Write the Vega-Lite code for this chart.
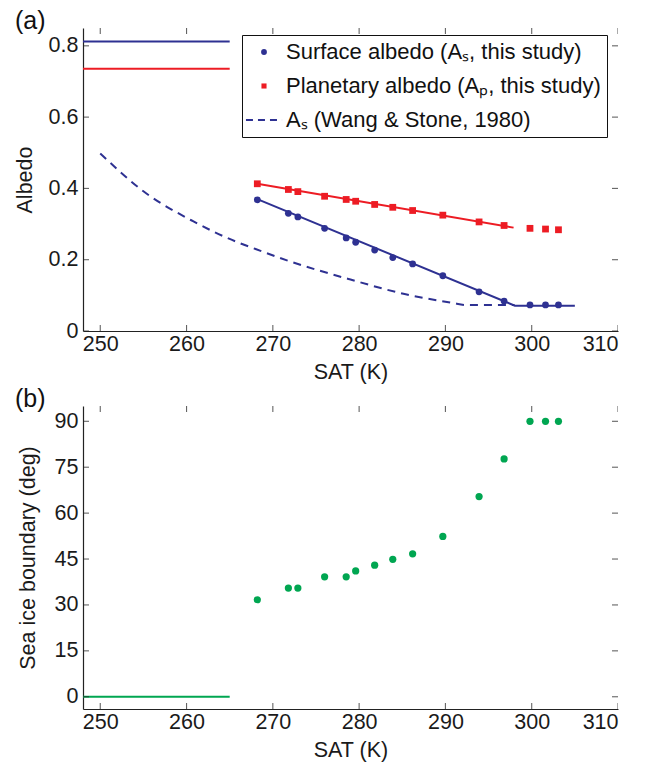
{
  "$schema": "https://vega.github.io/schema/vega-lite/v6.json",
  "padding": {"left": 14, "top": 9, "right": 5, "bottom": 5},
  "background": "white",
  "config": {
    "font": "Liberation Sans",
    "view": {"stroke": null},
    "axis": {
      "grid": false,
      "ticks": false,
      "domainColor": "#222222",
      "labelColor": "#1a1a1a",
      "titleColor": "#1a1a1a",
      "labelFont": "Liberation Sans",
      "titleFont": "Liberation Sans",
      "labelFontSize": 21.5,
      "titleFontSize": 21.5,
      "titleFontWeight": "normal",
      "domainWidth": 1.2
    },
    "axisX": {"labelPadding": 2, "titlePadding": 7},
    "axisY": {"labelPadding": 5},
    "title": {"font": "Liberation Sans", "fontSize": 25, "fontWeight": "normal", "color": "#111111"}
  },
  "datasets": {
    "hlS": [{"x": 248, "x2": 265, "y": 0.812}],
    "hlP": [{"x": 248, "x2": 265, "y": 0.736}],
    "xticks": [{"v": 250}, {"v": 260}, {"v": 270}, {"v": 280}, {"v": 290}, {"v": 300}, {"v": 310}],
    "yticksA": [{"v": 0}, {"v": 0.2}, {"v": 0.4}, {"v": 0.6}, {"v": 0.8}],
    "yticksB": [{"v": 0}, {"v": 15}, {"v": 30}, {"v": 45}, {"v": 60}, {"v": 75}, {"v": 90}],
    "wang": [
      {"T": 250, "A": 0.498},
      {"T": 255, "A": 0.392},
      {"T": 260.75, "A": 0.308},
      {"T": 266, "A": 0.248},
      {"T": 268, "A": 0.230},
      {"T": 271.9, "A": 0.196},
      {"T": 278.9, "A": 0.145},
      {"T": 285.4, "A": 0.103},
      {"T": 290.8, "A": 0.079},
      {"T": 292.4, "A": 0.073},
      {"T": 298, "A": 0.073}
    ],
    "fitS": [{"T": 268.2, "A": 0.370}, {"T": 298.05, "A": 0.071}, {"T": 305, "A": 0.071}],
    "fitP": [{"T": 268.2, "A": 0.413}, {"T": 297.9, "A": 0.290}],
    "pts": [
      {"T": 268.2, "A": 0.368, "s": "S"},
      {"T": 271.8, "A": 0.330, "s": "S"},
      {"T": 272.9, "A": 0.320, "s": "S"},
      {"T": 276.0, "A": 0.288, "s": "S"},
      {"T": 278.5, "A": 0.261, "s": "S"},
      {"T": 279.6, "A": 0.249, "s": "S"},
      {"T": 281.8, "A": 0.227, "s": "S"},
      {"T": 283.9, "A": 0.206, "s": "S"},
      {"T": 286.2, "A": 0.188, "s": "S"},
      {"T": 289.7, "A": 0.155, "s": "S"},
      {"T": 293.9, "A": 0.110, "s": "S"},
      {"T": 296.8, "A": 0.084, "s": "S"},
      {"T": 299.8, "A": 0.073, "s": "S"},
      {"T": 301.6, "A": 0.073, "s": "S"},
      {"T": 303.1, "A": 0.073, "s": "S"},
      {"T": 268.2, "A": 0.413, "s": "P"},
      {"T": 271.8, "A": 0.397, "s": "P"},
      {"T": 272.9, "A": 0.391, "s": "P"},
      {"T": 276.0, "A": 0.378, "s": "P"},
      {"T": 278.5, "A": 0.369, "s": "P"},
      {"T": 279.6, "A": 0.364, "s": "P"},
      {"T": 281.8, "A": 0.355, "s": "P"},
      {"T": 283.9, "A": 0.347, "s": "P"},
      {"T": 286.2, "A": 0.338, "s": "P"},
      {"T": 289.7, "A": 0.325, "s": "P"},
      {"T": 293.9, "A": 0.306, "s": "P"},
      {"T": 296.8, "A": 0.296, "s": "P"},
      {"T": 299.8, "A": 0.288, "s": "P"},
      {"T": 301.6, "A": 0.286, "s": "P"},
      {"T": 303.1, "A": 0.284, "s": "P"}
    ],
    "ice": [
      {"T": 268.2, "B": 31.7},
      {"T": 271.8, "B": 35.5},
      {"T": 272.9, "B": 35.5},
      {"T": 276.0, "B": 39.2},
      {"T": 278.5, "B": 39.2},
      {"T": 279.6, "B": 41.1},
      {"T": 281.8, "B": 43.0},
      {"T": 283.9, "B": 44.9},
      {"T": 286.2, "B": 46.7},
      {"T": 289.7, "B": 52.4},
      {"T": 293.9, "B": 65.4},
      {"T": 296.8, "B": 77.7},
      {"T": 299.8, "B": 90},
      {"T": 301.6, "B": 90},
      {"T": 303.1, "B": 90}
    ],
    "iceLine": [{"x": 248, "x2": 265, "y": 0}]
  },
  "vconcat": [
    {
      "width": 535,
      "height": 303,
      "title": {"text": "(a)", "anchor": "start", "frame": "group", "dx": -68, "offset": -6},
      "resolve": {"axis": {"x": "independent", "y": "independent"}},
      "layer": [
        {
          "data": {"name": "hlS"},
          "mark": {"type": "rule", "color": "#2e3192", "strokeWidth": 2},
          "encoding": {
            "x": {"field": "x", "type": "quantitative", "scale": {"domain": [248, 310], "nice": false, "zero": false}, "axis": null},
            "x2": {"field": "x2"},
            "y": {"field": "y", "type": "quantitative", "scale": {"domain": [0, 0.85], "nice": false, "zero": false}, "axis": null}
          }
        },
        {
          "data": {"name": "hlP"},
          "mark": {"type": "rule", "color": "#ed1c24", "strokeWidth": 2},
          "encoding": {
            "x": {"field": "x", "type": "quantitative", "axis": null},
            "x2": {"field": "x2"},
            "y": {"field": "y", "type": "quantitative", "axis": null}
          }
        },
        {
          "data": {"name": "xticks"},
          "mark": {"type": "tick", "orient": "vertical", "color": "#222222", "size": 12, "thickness": 1.1, "clip": true},
          "encoding": {
            "x": {"field": "v", "type": "quantitative", "axis": null},
            "y": {"datum": 0, "type": "quantitative", "axis": null}
          }
        },
        {
          "data": {"name": "xticks"},
          "mark": {"type": "tick", "orient": "vertical", "color": "#222222", "size": 12, "thickness": 1.1, "clip": true},
          "encoding": {
            "x": {"field": "v", "type": "quantitative", "axis": null},
            "y": {"datum": 0.85, "type": "quantitative", "axis": null}
          }
        },
        {
          "data": {"name": "yticksA"},
          "mark": {"type": "tick", "orient": "horizontal", "color": "#222222", "size": 12, "thickness": 1.1, "clip": true},
          "encoding": {
            "y": {"field": "v", "type": "quantitative", "axis": null},
            "x": {"datum": 248, "type": "quantitative", "axis": null}
          }
        },
        {
          "data": {"name": "yticksA"},
          "mark": {"type": "tick", "orient": "horizontal", "color": "#222222", "size": 12, "thickness": 1.1, "clip": true},
          "encoding": {
            "y": {"field": "v", "type": "quantitative", "axis": null},
            "x": {"datum": 310, "type": "quantitative", "axis": null}
          }
        },
        {
          "mark": {"type": "rule", "color": "#222222", "strokeWidth": 1.2},
          "encoding": {"x": {"datum": 310, "type": "quantitative", "axis": null}}
        },
        {
          "mark": {"type": "rule", "color": "#222222", "strokeWidth": 1.2},
          "encoding": {"y": {"datum": 0.85, "type": "quantitative", "axis": null}}
        },
        {
          "data": {"name": "wang"},
          "mark": {"type": "line", "color": "#2e3192", "strokeWidth": 2, "strokeDash": [8, 6], "interpolate": "monotone"},
          "encoding": {
            "x": {"field": "T", "type": "quantitative", "axis": null},
            "y": {"field": "A", "type": "quantitative", "axis": null}
          }
        },
        {
          "data": {"name": "fitP"},
          "mark": {"type": "line", "color": "#ed1c24", "strokeWidth": 2},
          "encoding": {
            "x": {"field": "T", "type": "quantitative", "axis": null},
            "y": {"field": "A", "type": "quantitative", "axis": null}
          }
        },
        {
          "data": {"name": "fitS"},
          "mark": {"type": "line", "color": "#2e3192", "strokeWidth": 2},
          "encoding": {
            "x": {"field": "T", "type": "quantitative", "axis": null},
            "y": {"field": "A", "type": "quantitative", "axis": null}
          }
        },
        {
          "data": {"name": "pts"},
          "mark": {"type": "point", "filled": true, "opacity": 1, "size": 46},
          "encoding": {
            "x": {"field": "T", "type": "quantitative",
                  "axis": {"orient": "bottom", "title": "SAT (K)", "values": [250, 260, 270, 280, 290, 300, 310]}},
            "y": {"field": "A", "type": "quantitative",
                  "axis": {"orient": "left", "title": "Albedo", "values": [0, 0.2, 0.4, 0.6, 0.8], "format": ".1~f", "titlePadding": 12}},
            "shape": {"field": "s", "type": "nominal", "scale": {"domain": ["S", "P", "W"], "range": ["circle", "square", "stroke"]}, "legend": null},
            "color": {
              "field": "s", "type": "nominal",
              "scale": {"domain": ["S", "P", "W"], "range": ["#2e3192", "#ed1c24", "#2e3192"]},
              "legend": {
                "orient": "none", "legendX": 159, "legendY": 7,
                "title": null,
                "labelExpr": "datum.value === 'S' ? 'Surface albedo (Aₛ, this study)' : datum.value === 'P' ? 'Planetary albedo (Aₚ, this study)' : 'Aₛ (Wang & Stone, 1980)'",
                "labelFont": "Liberation Sans", "labelFontSize": 22, "labelColor": "#111111", "labelLimit": 500,
                "strokeColor": "#111111", "fillColor": "white", "padding": 6,
                "symbolSize": 100, "symbolOffset": 5, "labelOffset": 11, "rowPadding": 12,
                "symbolStrokeWidth": 2,
                "encoding": {
                  "symbols": {
                    "shape": {"value": {"expr": "datum.value === 'W' ? 'stroke' : datum.value === 'P' ? 'square' : 'circle'"}},
                    "size": {"value": {"expr": "datum.value === 'W' ? 1300 : datum.value === 'P' ? 26 : 34"}},
                    "strokeDash": {"value": {"expr": "datum.value === 'W' ? [7, 5] : [1, 0]"}},
                    "stroke": {"value": {"expr": "datum.value === 'W' ? '#2e3192' : 'transparent'"}},
                    "fill": {"value": {"expr": "datum.value === 'W' ? 'transparent' : datum.value === 'P' ? '#ed1c24' : '#2e3192'"}},
                    "strokeWidth": {"value": 2},
                    "opacity": {"value": 1}
                  }
                }
              }
            }
          }
        }
      ]
    },
    {
      "width": 535,
      "height": 303,
      "title": {"text": "(b)", "anchor": "start", "frame": "group", "dx": -68, "offset": -6},
      "resolve": {"axis": {"x": "independent", "y": "independent"}},
      "layer": [
        {
          "data": {"name": "iceLine"},
          "mark": {"type": "rule", "color": "#00a651", "strokeWidth": 2},
          "encoding": {
            "x": {"field": "x", "type": "quantitative", "scale": {"domain": [248, 310], "nice": false, "zero": false}, "axis": null},
            "x2": {"field": "x2"},
            "y": {"field": "y", "type": "quantitative", "scale": {"domain": [-4, 95], "nice": false, "zero": false}, "axis": null}
          }
        },
        {
          "data": {"name": "xticks"},
          "mark": {"type": "tick", "orient": "vertical", "color": "#222222", "size": 12, "thickness": 1.1, "clip": true},
          "encoding": {
            "x": {"field": "v", "type": "quantitative", "axis": null},
            "y": {"datum": -4, "type": "quantitative", "axis": null}
          }
        },
        {
          "data": {"name": "xticks"},
          "mark": {"type": "tick", "orient": "vertical", "color": "#222222", "size": 12, "thickness": 1.1, "clip": true},
          "encoding": {
            "x": {"field": "v", "type": "quantitative", "axis": null},
            "y": {"datum": 95, "type": "quantitative", "axis": null}
          }
        },
        {
          "data": {"name": "yticksB"},
          "mark": {"type": "tick", "orient": "horizontal", "color": "#222222", "size": 12, "thickness": 1.1, "clip": true},
          "encoding": {
            "y": {"field": "v", "type": "quantitative", "axis": null},
            "x": {"datum": 248, "type": "quantitative", "axis": null}
          }
        },
        {
          "data": {"name": "yticksB"},
          "mark": {"type": "tick", "orient": "horizontal", "color": "#222222", "size": 12, "thickness": 1.1, "clip": true},
          "encoding": {
            "y": {"field": "v", "type": "quantitative", "axis": null},
            "x": {"datum": 310, "type": "quantitative", "axis": null}
          }
        },
        {
          "mark": {"type": "rule", "color": "#222222", "strokeWidth": 1.2},
          "encoding": {"x": {"datum": 310, "type": "quantitative", "axis": null}}
        },
        {
          "mark": {"type": "rule", "color": "#222222", "strokeWidth": 1.2},
          "encoding": {"y": {"datum": 95, "type": "quantitative", "axis": null}}
        },
        {
          "data": {"name": "ice"},
          "mark": {"type": "circle", "color": "#00a651", "opacity": 1, "size": 52},
          "encoding": {
            "x": {"field": "T", "type": "quantitative",
                  "axis": {"orient": "bottom", "title": "SAT (K)", "values": [250, 260, 270, 280, 290, 300, 310]}},
            "y": {"field": "B", "type": "quantitative",
                  "axis": {"orient": "left", "title": "Sea ice boundary (deg)", "values": [0, 15, 30, 45, 60, 75, 90], "titlePadding": 15}}
          }
        }
      ]
    }
  ],
  "spacing": 4
}
